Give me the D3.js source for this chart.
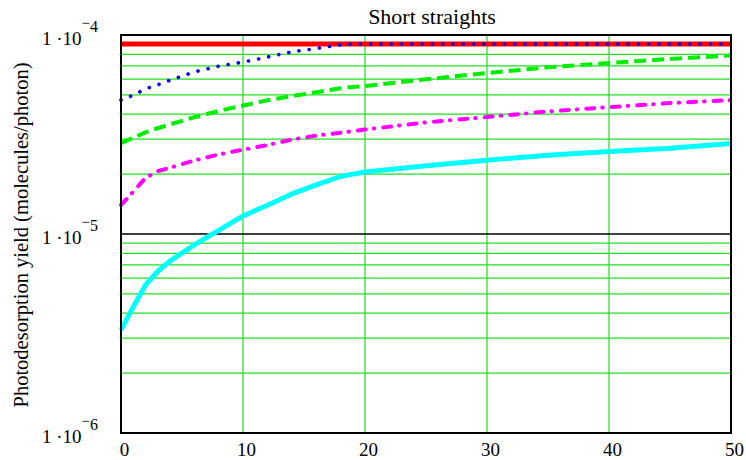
<!DOCTYPE html>
<html>
<head>
<meta charset="utf-8">
<script src="https://cdn.jsdelivr.net/npm/d3@7"></script>
<style>
  html, body { margin: 0; padding: 0; background: #fff; }
  svg { display: block; }
  text { font-family: "Liberation Serif", "Times New Roman", serif; fill: #000; }
</style>
</head>
<body>
<svg id="chart" width="746" height="460"></svg>
<script>
// Beam distance (x) samples
const distance = [0, 1, 2, 3, 4, 6, 8, 10, 12, 14, 16, 18, 19, 20, 25, 30, 35, 40, 45, 50];

// Photodesorption yield series (molecules/photon)
const yieldRed = [9e-5, 9e-5, 9e-5, 9e-5, 9e-5, 9e-5, 9e-5, 9e-5, 9e-5, 9e-5, 9e-5, 9e-5, 9e-5, 9e-5, 9e-5, 9e-5, 9e-5, 9e-5, 9e-5, 9e-5];
const yieldBlue = [4.71e-5, 4.98e-5, 5.36e-5, 5.61e-5, 5.92e-5, 6.52e-5, 6.97e-5, 7.31e-5, 7.74e-5, 8.23e-5, 8.55e-5, 8.93e-5, 9e-5, 9e-5, 9e-5, 9e-5, 9e-5, 9e-5, 9e-5, 9e-5];
const yieldGreen = [2.86e-5, 3.04e-5, 3.24e-5, 3.40e-5, 3.55e-5, 3.86e-5, 4.15e-5, 4.42e-5, 4.70e-5, 4.93e-5, 5.15e-5, 5.40e-5, 5.48e-5, 5.54e-5, 5.99e-5, 6.44e-5, 6.88e-5, 7.23e-5, 7.58e-5, 7.89e-5];
const yieldMagenta = [1.40e-5, 1.63e-5, 1.91e-5, 2.07e-5, 2.15e-5, 2.34e-5, 2.51e-5, 2.65e-5, 2.80e-5, 2.98e-5, 3.12e-5, 3.23e-5, 3.29e-5, 3.35e-5, 3.64e-5, 3.87e-5, 4.13e-5, 4.34e-5, 4.55e-5, 4.71e-5];
const yieldCyan = [3.29e-6, 4.30e-6, 5.53e-6, 6.48e-6, 7.31e-6, 8.81e-6, 1.044e-5, 1.232e-5, 1.396e-5, 1.59e-5, 1.764e-5, 1.945e-5, 2.00e-5, 2.05e-5, 2.20e-5, 2.35e-5, 2.49e-5, 2.60e-5, 2.70e-5, 2.85e-5];

// Axis ticks
const xTicks = [0, 10, 20, 30, 40, 50];
const yTicks = [1e-6, 1e-5, 1e-4];
const yTickExponents = ["6", "5", "4"];

const title = "Short straights";
const yLabel = "Photodesorption yield (molecules/photon)";

const svg = d3.select("#chart");
const plotLeft = 121, plotRight = 731, plotTop = 35, plotBottom = 433;

const x = d3.scaleLinear().domain([0, 50]).range([plotLeft, plotRight]);
const y = d3.scaleLog().domain([1e-6, 1e-4]).range([plotBottom, plotTop]);

// Minor horizontal grid (2..9 within each decade)
const minor = [];
for (const dec of [1e-6, 1e-5]) for (let m = 2; m <= 9; m++) minor.push(m * dec);

const grid = svg.append("g");
grid.selectAll("line.hminor").data(minor).join("line")
  .attr("x1", plotLeft).attr("x2", plotRight)
  .attr("y1", d => y(d)).attr("y2", d => y(d))
  .attr("stroke", "#1ee01e").attr("stroke-width", 1.2);

grid.selectAll("line.v").data(xTicks.slice(1, -1)).join("line")
  .attr("x1", d => x(d)).attr("x2", d => x(d))
  .attr("y1", plotTop).attr("y2", plotBottom)
  .attr("stroke", "#1ee01e").attr("stroke-width", 1.2);

// Decade line
grid.append("line")
  .attr("x1", plotLeft).attr("x2", plotRight)
  .attr("y1", y(1e-5)).attr("y2", y(1e-5))
  .attr("stroke", "#000").attr("stroke-width", 1.5);

// Series
const line = vals => d3.line()
  .x((d, i) => x(distance[i]))
  .y(d => y(d))(vals);

const series = [
  { v: yieldRed, color: "#ff0000", width: 5, dash: null, cap: "butt" },
  { v: yieldGreen, color: "#00ee00", width: 4, dash: "12 6", cap: "butt" },
  { v: yieldMagenta, color: "#ff00ff", width: 4, dash: "8 8 0.5 9", cap: "round" },
  { v: yieldCyan, color: "#00ffff", width: 5, dash: null, cap: "butt" },
  { v: yieldBlue, color: "#0000ff", width: 3.6, dash: "0.1 10.2", cap: "round" }
];

svg.append("g").selectAll("path").data(series).join("path")
  .attr("d", d => line(d.v))
  .attr("fill", "none")
  .attr("stroke", d => d.color)
  .attr("stroke-width", d => d.width)
  .attr("stroke-dasharray", d => d.dash)
  .attr("stroke-linecap", d => d.cap)
  .attr("stroke-linejoin", "round");

// Frame
svg.append("rect")
  .attr("x", plotLeft).attr("y", plotTop)
  .attr("width", plotRight - plotLeft).attr("height", plotBottom - plotTop)
  .attr("fill", "none").attr("stroke", "#000").attr("stroke-width", 2);

// X axis labels
const xAxis = svg.append("g")
  .attr("transform", `translate(0,${plotBottom})`)
  .call(d3.axisBottom(x).tickValues(xTicks).tickSize(0).tickFormat(d3.format("d")));
xAxis.select(".domain").remove();
xAxis.selectAll("text")
  .attr("y", 23).attr("dy", 0).attr("dx", 3)
  .style("font-family", "'Liberation Serif', serif")
  .style("font-size", "19px").attr("fill", "#000");

// Y axis labels: 1·10^-n
const yAxis = svg.append("g")
  .attr("transform", `translate(${plotLeft},0)`)
  .call(d3.axisLeft(y).tickValues(yTicks).tickSize(0).tickFormat(""));
yAxis.select(".domain").remove();
yAxis.selectAll(".tick text").remove();
yAxis.selectAll(".tick").each(function (d, i) {
  const t = d3.select(this).append("text")
    .attr("x", -23).attr("y", 9)
    .attr("text-anchor", "end")
    .style("font-size", "19px");
  t.append("tspan").text("1 \u00B710");
  t.append("tspan").attr("dy", -17).style("font-size", "15px").text("\u2212");
  t.append("tspan").attr("dy", 4).style("font-size", "16px").text(yTickExponents[i]);
});

// Title
svg.append("text")
  .attr("x", 432).attr("y", 24)
  .attr("text-anchor", "middle")
  .style("font-size", "22px")
  .text(title);

// Y axis title
svg.append("text")
  .attr("transform", "translate(28,235) rotate(-90)")
  .attr("text-anchor", "middle")
  .style("font-size", "20.5px")
  .text(yLabel);
</script>
</body>
</html>
